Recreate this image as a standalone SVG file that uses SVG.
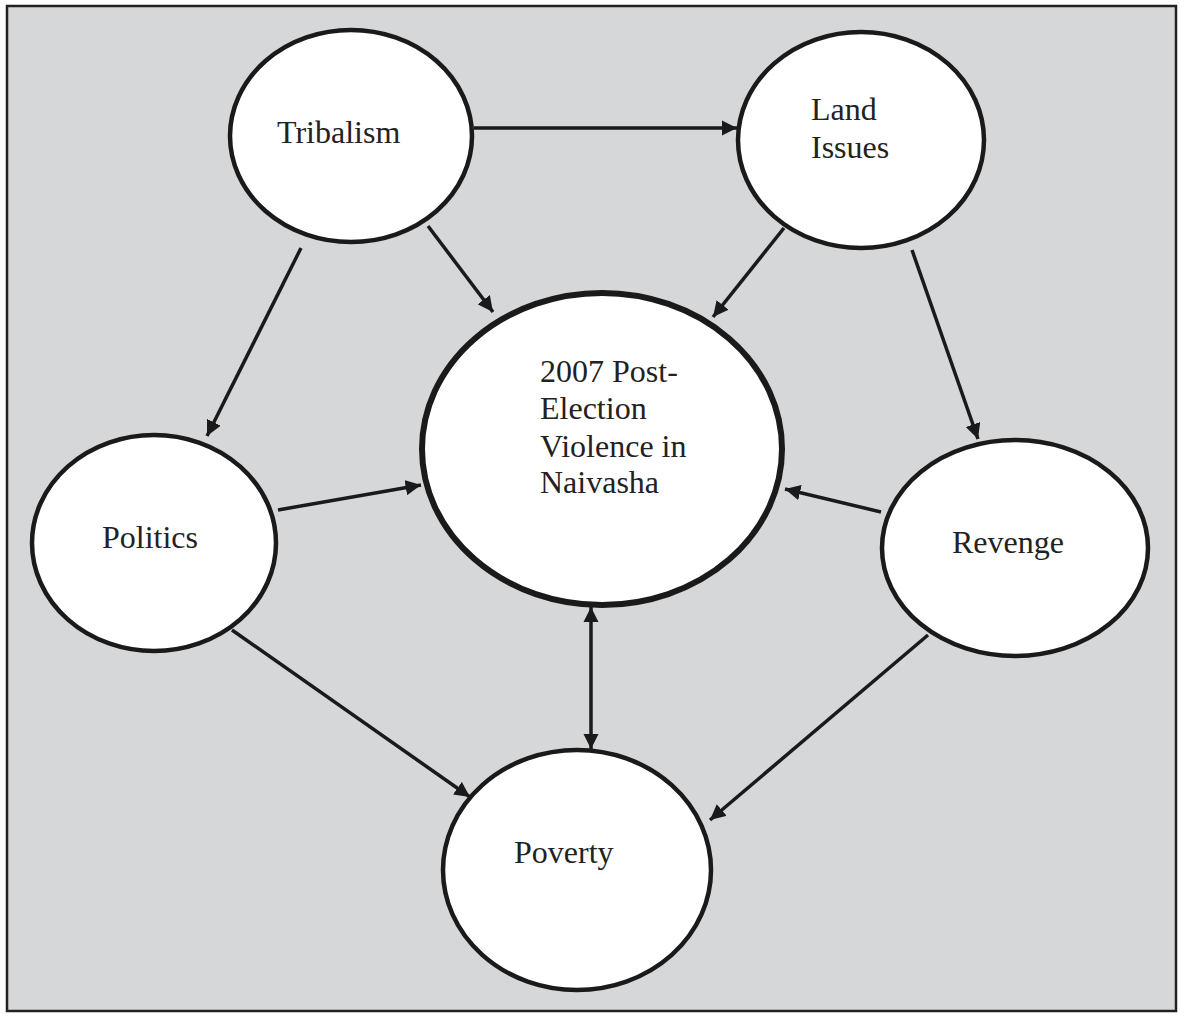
<svg xmlns="http://www.w3.org/2000/svg" width="1184" height="1016" viewBox="0 0 1184 1016">
<style>
.node{fill:#ffffff;stroke:#1a1a1a;stroke-width:4.5}
.main{fill:#ffffff;stroke:#1a1a1a;stroke-width:6}
.lbl{font-family:"Liberation Serif","Times New Roman",serif;font-size:32px;fill:#222}
.edge{stroke:#1a1a1a;stroke-width:3.5;fill:none;marker-end:url(#ah)}
</style>
<defs>
<marker id="ah" viewBox="0 0 10 10" refX="10" refY="5" markerWidth="4.4" markerHeight="4.4" markerUnits="strokeWidth" orient="auto-start-reverse">
<path d="M0,0 L10,5 L0,10 z" fill="#1a1a1a"/>
</marker>
</defs>
<rect x="7" y="6" width="1169" height="1005" fill="#d6d7d9" stroke="#222" stroke-width="2.5"/>
<g id="tribalism"><ellipse class="node" cx="351" cy="136" rx="121" ry="106"/><text class="lbl" x="277" y="143">Tribalism</text></g>
<g id="land"><ellipse class="node" cx="861" cy="140" rx="123" ry="108"/><text class="lbl" x="811" y="120">Land</text><text class="lbl" x="811" y="158">Issues</text></g>
<g id="center"><ellipse class="main" cx="602" cy="449" rx="180" ry="156"/><text class="lbl" x="540" y="382">2007 Post-</text><text class="lbl" x="540" y="419">Election</text><text class="lbl" x="540" y="457">Violence in</text><text class="lbl" x="540" y="493">Naivasha</text></g>
<g id="politics"><ellipse class="node" cx="154" cy="543" rx="122" ry="108"/><text class="lbl" x="102" y="548">Politics</text></g>
<g id="revenge"><ellipse class="node" cx="1015" cy="548" rx="133" ry="108"/><text class="lbl" x="952" y="553">Revenge</text></g>
<g id="poverty"><ellipse class="node" cx="577" cy="870" rx="134" ry="120"/><text class="lbl" x="514" y="863">Poverty</text></g>
<g id="connectors">
<line class="edge" x1="474" y1="128" x2="737" y2="128"/>
<line class="edge" x1="428" y1="226" x2="493" y2="312"/>
<line class="edge" x1="301" y1="248" x2="207" y2="436"/>
<line class="edge" x1="784" y1="228" x2="713" y2="317"/>
<line class="edge" x1="912" y1="250" x2="978" y2="439"/>
<line class="edge" x1="278" y1="510" x2="421" y2="485"/>
<line class="edge" x1="881" y1="512" x2="785" y2="489"/>
<line class="edge" x1="232" y1="630" x2="470" y2="797"/>
<line class="edge" x1="928" y1="635" x2="710" y2="820"/>
<line class="edge" x1="591" y1="607" x2="591" y2="749" marker-start="url(#ah)"/>
</g>
</svg>
